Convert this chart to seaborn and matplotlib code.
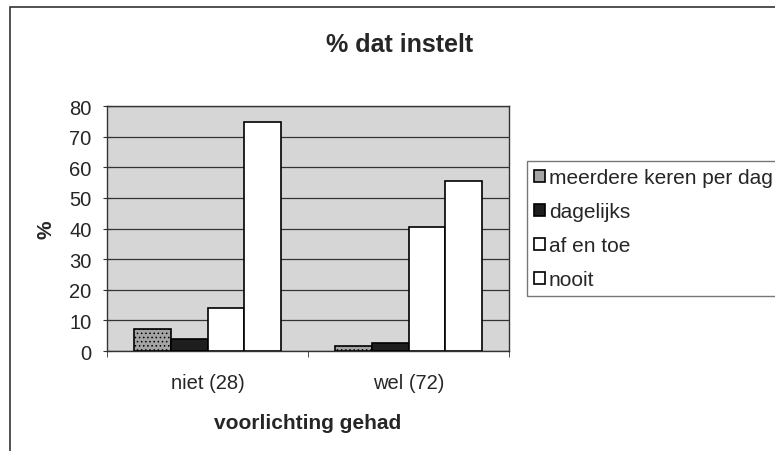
import numpy as np
import pandas as pd
import seaborn as sns
import matplotlib.pyplot as plt
from matplotlib.patches import Rectangle

# data
groups = ['niet (28)', 'wel (72)']
series = ['meerdere keren per dag', 'dagelijks', 'af en toe', 'nooit']
meerdere = [7.1, 1.6]
dagelijks = [3.8, 2.7]
af_en_toe = [14.2, 40.5]
nooit = [74.8, 55.7]

df = pd.DataFrame({
    'groep': groups * 4,
    'freq': [s for s in series for _ in groups],
    'pct': meerdere + dagelijks + af_en_toe + nooit,
})

sns.set_style('white')
plt.rcParams['font.family'] = ['Liberation Sans', 'DejaVu Sans']
plt.rcParams['hatch.linewidth'] = 0.6

fig = plt.figure(figsize=(7.75, 4.52), dpi=100)
ax = fig.add_axes([0.138, 0.221, 0.519, 0.542])
ax.set_facecolor('#d6d6d6')

kleuren = ['#a4a4a4', '#1e1e1e', '#ffffff', '#ffffff']
sns.barplot(data=df, x='groep', y='pct', hue='freq', order=groups, hue_order=series,
            palette=kleuren, edgecolor='black', linewidth=1.2, width=0.73,
            saturation=1, ax=ax, zorder=3)
# gestippelde vulling voor de eerste reeks
for p in ax.containers[0]:
    p.set_hatch('....')

ax.set_ylim(0, 80)
ax.set_yticks(range(0, 81, 10))
ax.yaxis.grid(True, color='#333333', linewidth=0.9, zorder=0)
ax.set_axisbelow(True)
for s in ax.spines.values():
    s.set_color('#333333')
    s.set_linewidth(1)
ax.set_xlim(-0.5, 1.5)
ax.tick_params(axis='y', labelsize=14.5, length=6, direction='inout', color='#333333',
               left=True, pad=8)
ax.set_xticks([-0.5, 0.5, 1.5], minor=True)
ax.tick_params(axis='x', which='major', length=0, labelsize=14.5, pad=16)
ax.tick_params(axis='x', which='minor', length=4, color='#333333', bottom=True)
ax.set_xlabel('voorlichting gehad', fontsize=15, fontweight='bold', labelpad=15)
ax.set_ylabel('%', fontsize=15, fontweight='bold', labelpad=10)

fig.text(0.515, 0.9, '% dat instelt', ha='center', va='center', fontsize=18, fontweight='bold')

leg = ax.legend(loc='upper left', bbox_to_anchor=(0.68, 0.642), bbox_transform=fig.transFigure,
                fontsize=15, frameon=True, fancybox=False, edgecolor='#555555',
                handlelength=0.5, handleheight=0.5, handletextpad=0.2, labelspacing=0.72,
                borderpad=0.35, borderaxespad=0)
leg.get_frame().set_linewidth(1)

# outer chart frame
fig.patches.append(Rectangle((0.013, -0.01), 1.0, 0.992, transform=fig.transFigure,
                             fill=False, edgecolor='#333333', linewidth=1.2))

fig.savefig('out.png', dpi=100)
